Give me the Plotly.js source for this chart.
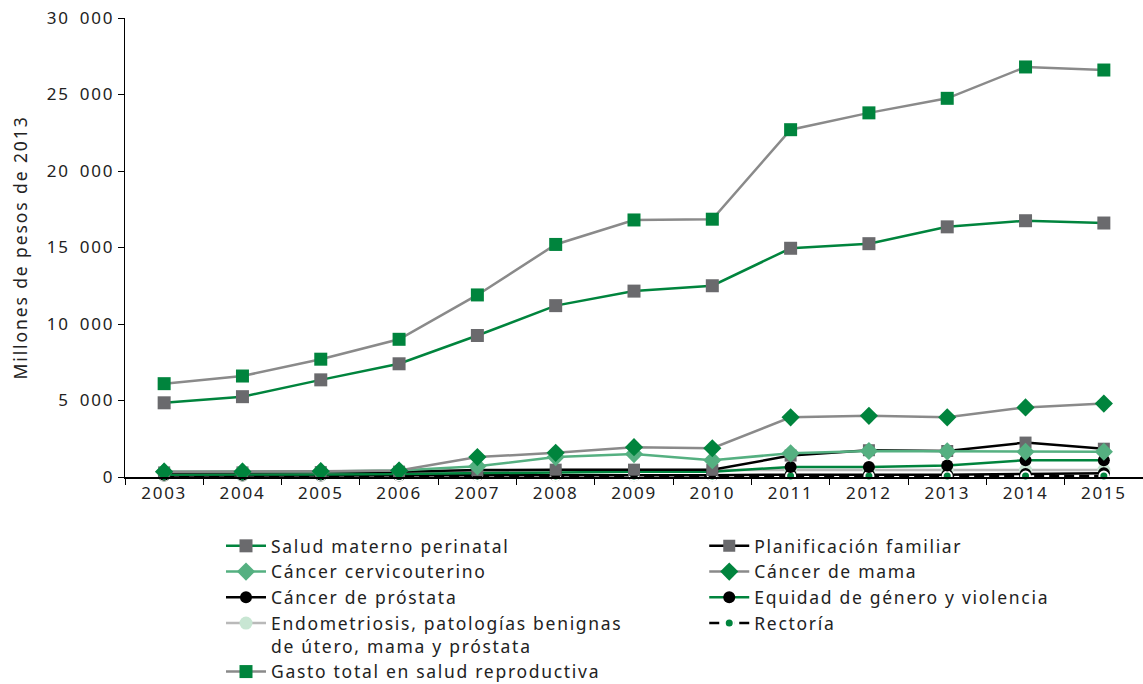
<!DOCTYPE html>
<html>
<head>
<meta charset="utf-8">
<script src="https://cdn.plot.ly/plotly-3.0.1.min.js"></script>
<style>
html,body{margin:0;padding:0;background:#fff;}
#chart{width:1143px;height:684px;}
svg text{letter-spacing:1.7px;}
svg text.ytitle{letter-spacing:1.9px;}
</style>
</head>
<body>
<div id="chart"></div>
<script>
const years = ["2003","2004","2005","2006","2007","2008","2009","2010","2011","2012","2013","2014","2015"];

const saludMaterno   = [4850, 5250, 6350, 7400, 9250, 11200, 12150, 12500, 14950, 15250, 16350, 16750, 16600];
const planificacion  = [300, 300, 320, 350, 450, 480, 480, 470, 1400, 1750, 1700, 2250, 1850];
const cervicouterino = [350, 350, 360, 420, 700, 1300, 1500, 1100, 1550, 1700, 1680, 1650, 1650];
const cancerMama     = [350, 350, 380, 420, 1300, 1580, 1950, 1880, 3900, 4000, 3900, 4550, 4800];
const prostata       = [100, 100, 100, 100, 120, 120, 120, 120, 150, 150, 150, 200, 250];
const equidad        = [150, 150, 160, 200, 250, 300, 350, 350, 650, 650, 750, 1100, 1100];
const endometriosis  = [100, 100, 100, 150, 350, 450, 450, 450, 450, 450, 450, 450, 450];
const rectoria       = [60, 60, 60, 60, 60, 60, 60, 60, 60, 60, 60, 60, 60];
const gastoTotal     = [6100, 6600, 7700, 9000, 11900, 15200, 16800, 16850, 22700, 23800, 24750, 26800, 26600];

const names = {
  salud: "Salud materno perinatal",
  planif: "Planificación familiar",
  cervico: "Cáncer cervicouterino",
  mama: "Cáncer de mama",
  prostata: "Cáncer de próstata",
  equidad: "Equidad de género y violencia",
  endo: "Endometriosis, patologías benignas<br>de útero, mama y próstata",
  rector: "Rectoría",
  gasto: "Gasto total en salud reproductiva"
};

const GREEN = "#00843d", GREY = "#8a8a8a", DGREY = "#6a6a6d", MGREEN = "#55b081", LGREY = "#b9b9b9", PGREEN = "#c8e6d3";

function tr(y, name, lineColor, marker, rank, leg, dash) {
  return {
    x: years, y: y, name: name, type: "scatter", mode: "lines+markers",
    line: {color: lineColor, width: 2.5, dash: dash || "solid"},
    marker: marker, legendrank: rank, legend: leg, cliponaxis: false
  };
}

const data = [
  tr(endometriosis, names.endo, LGREY, {symbol: "circle", size: 13, color: PGREEN}, 4, "legend"),
  tr(prostata, names.prostata, "#000", {symbol: "circle", size: 12, color: "#000"}, 3, "legend"),
  tr(rectoria, names.rector, "#000", {symbol: "circle", size: 9, color: GREEN, line: {color: "#fff", width: 2}}, 4, "legend2", "10px,5px"),
  tr(equidad, names.equidad, GREEN, {symbol: "circle", size: 12, color: "#000"}, 3, "legend2"),
  tr(planificacion, names.planif, "#000", {symbol: "square", size: 12, color: DGREY}, 1, "legend2"),
  tr(cervicouterino, names.cervico, MGREEN, {symbol: "diamond", size: 14, color: MGREEN}, 2, "legend"),
  tr(cancerMama, names.mama, GREY, {symbol: "diamond", size: 14, color: GREEN}, 2, "legend2"),
  tr(saludMaterno, names.salud, GREEN, {symbol: "square", size: 13, color: DGREY}, 1, "legend"),
  tr(gastoTotal, names.gasto, GREY, {symbol: "square", size: 13, color: GREEN}, 5, "legend")
];

const legendBase = {
  orientation: "v", y: -0.111, xanchor: "left", yanchor: "top",
  font: {size: 17.5, color: "#222"}, traceorder: "normal", itemwidth: 40, valign: "top",
  bgcolor: "rgba(0,0,0,0)"
};

const layout = {
  width: 1143, height: 684,
  margin: {l: 125, r: 0, t: 18, b: 207, autoexpand: false},
  paper_bgcolor: "#fff", plot_bgcolor: "#fff",
  separators: ",\u2002",
  font: {family: "Noto Sans, sans-serif", color: "#222"},
  showlegend: true,
  legend: Object.assign({}, legendBase, {x: 0.0943}),
  legend2: Object.assign({}, legendBase, {x: 0.569}),
  xaxis: {
    type: "category", range: [-0.5, 12.5], automargin: false,
    showline: true, linecolor: "#000", linewidth: 1.5,
    ticks: "outside", ticklen: 6, tickcolor: "#000", tickson: "boundaries",
    showgrid: false, zeroline: false,
    tickfont: {size: 17, color: "#222"}
  },
  yaxis: {
    range: [0, 30000], tickvals: [0, 5000, 10000, 15000, 20000, 25000, 30000],
    tickformat: ",d", automargin: false,
    showline: true, linecolor: "#000", linewidth: 1.5,
    ticks: "outside", ticklen: 6, tickcolor: "#000",
    showgrid: false, zeroline: false,
    tickfont: {size: 17, color: "#222"},
    title: {text: "Millones de pesos de 2013", font: {size: 17.5, color: "#222"}, standoff: 14}
  }
};

Plotly.newPlot("chart", data, layout, {displayModeBar: false, staticPlot: true});
</script>
</body>
</html>
